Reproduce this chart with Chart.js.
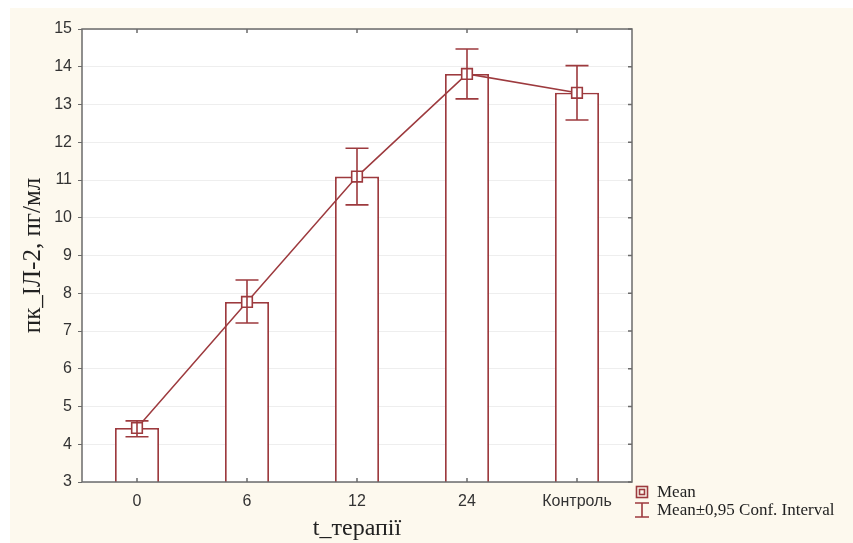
<!DOCTYPE html>
<html>
<head>
<meta charset="utf-8">
<script src="https://cdn.jsdelivr.net/npm/chart.js@4.4.1/dist/chart.umd.min.js"></script>
<style>
  html, body { margin: 0; padding: 0; background: #ffffff; }
  #wrap { position: absolute; left: 0; top: 0; width: 853px; height: 543px; }
</style>
</head>
<body>
<div id="wrap"><canvas id="chart"></canvas></div>
<script>
// data
var categories = ["0", "6", "12", "24", "Контроль"];
var means = [4.43, 7.77, 11.09, 13.81, 13.31];
var ciLow = [4.20, 7.21, 10.34, 13.15, 12.59];
var ciHigh = [4.62, 8.35, 11.84, 14.47, 14.03];
var yTicks = [3, 4, 5, 6, 7, 8, 9, 10, 11, 12, 13, 14, 15];

var red = "#9d3a3e";
var cream = "#fdf9ee";

var backgroundPlugin = {
  id: "bg",
  beforeDraw: function (chart) {
    var ctx = chart.ctx;
    var a = chart.chartArea;
    ctx.save();
    ctx.fillStyle = cream;
    ctx.fillRect(10, 8, chart.width - 10, chart.height - 8);
    ctx.fillStyle = "#ffffff";
    ctx.fillRect(a.left, a.top, a.right - a.left, a.bottom - a.top);
    ctx.restore();
  },
};

var errorBarPlugin = {
  id: "errorBars",
  afterDatasetsDraw: function (chart) {
    var ctx = chart.ctx;
    var y = chart.scales.y;
    var meta = chart.getDatasetMeta(0);
    ctx.save();
    ctx.strokeStyle = red;
    ctx.lineWidth = 1.6;
    meta.data.forEach(function (bar, i) {
      var x = bar.x;
      var top = y.getPixelForValue(ciHigh[i]);
      var bot = y.getPixelForValue(ciLow[i]);
      ctx.beginPath();
      ctx.moveTo(x, top);
      ctx.lineTo(x, bot);
      ctx.moveTo(x - 11.5, top);
      ctx.lineTo(x + 11.5, top);
      ctx.moveTo(x - 11.5, bot);
      ctx.lineTo(x + 11.5, bot);
      ctx.stroke();
    });
    ctx.restore();
  },
  afterDraw: function (chart) {
    // frame, mirrored ticks and legend
    var ctx = chart.ctx;
    var a = chart.chartArea;
    var x = chart.scales.x;
    var y = chart.scales.y;
    ctx.save();
    ctx.strokeStyle = "#6b6b6b";
    ctx.lineWidth = 1.5;
    ctx.strokeRect(a.left, a.top, a.right - a.left, a.bottom - a.top);
    ctx.beginPath();
    categories.forEach(function (c, i) {
      var px = x.getPixelForValue(i);
      ctx.moveTo(px, a.top);
      ctx.lineTo(px, a.top + 4);
      ctx.moveTo(px, a.bottom);
      ctx.lineTo(px, a.bottom - 4);
    });
    yTicks.forEach(function (v) {
      var py = y.getPixelForValue(v);
      ctx.moveTo(a.right, py);
      ctx.lineTo(a.right - 4, py);
    });
    ctx.stroke();

    // legend
    ctx.strokeStyle = red;
    ctx.lineWidth = 1.6;
    ctx.strokeRect(636.5, 486.5, 11, 11);
    ctx.strokeRect(639.5, 489.5, 5, 5);
    ctx.beginPath();
    ctx.moveTo(642, 503);
    ctx.lineTo(642, 517);
    ctx.moveTo(635, 503);
    ctx.lineTo(649, 503);
    ctx.moveTo(635, 517);
    ctx.lineTo(649, 517);
    ctx.stroke();
    ctx.fillStyle = "#222222";
    ctx.font = "17px 'Liberation Serif'";
    ctx.textBaseline = "middle";
    ctx.fillText("Mean", 657, 493);
    ctx.fillText("Mean±0,95 Conf. Interval", 657, 511);
    ctx.restore();
  },
};

var config = {
  type: "bar",
  data: {
    labels: categories,
    datasets: [
      {
        type: "bar",
        data: means,
        backgroundColor: "#ffffff",
        borderColor: red,
        borderWidth: 1.8,
        barPercentage: 0.4,
        categoryPercentage: 1,
        order: 2,
      },
      {
        type: "line",
        data: means,
        borderColor: red,
        borderWidth: 1.5,
        pointStyle: "rect",
        pointRadius: 7.5,
        pointBackgroundColor: "#ffffff",
        pointBorderColor: red,
        pointBorderWidth: 1.6,
        order: 1,
      },
    ],
  },
  options: {
    responsive: false,
    animation: false,
    devicePixelRatio: 1,
    layout: { padding: { top: 29, right: 221, bottom: 0, left: 0 } },
    plugins: { legend: { display: false }, tooltip: { enabled: false } },
    scales: {
      x: {
        offset: true,
        grid: { display: false, drawTicks: false },
        border: { display: false },
        ticks: {
          color: "#333333",
          padding: 10,
          font: { family: "'Liberation Sans'", size: 16 },
        },
        title: {
          display: true,
          text: "t_терапії",
          color: "#222222",
          padding: { top: 7, bottom: 0 },
          font: { family: "'Liberation Serif'", size: 24 },
        },
        afterFit: function (scale) {
          scale.height = 61;
        },
      },
      y: {
        min: 3,
        max: 15,
        afterBuildTicks: function (scale) {
          scale.ticks = yTicks.map(function (v) {
            return { value: v };
          });
        },
        grid: { color: "#eeeeee", tickLength: 4, tickColor: "#6b6b6b" },
        border: { display: false },
        ticks: {
          color: "#333333",
          padding: 6,
          font: { family: "'Liberation Sans'", size: 16 },
        },
        title: {
          display: true,
          text: "пк_ІЛ-2, пг/мл",
          color: "#222222",
          padding: { top: 18, bottom: 0 },
          font: { family: "'Liberation Serif'", size: 25 },
        },
        afterFit: function (scale) {
          scale.width = 82;
        },
      },
    },
  },
  plugins: [backgroundPlugin, errorBarPlugin],
};

var canvas = document.getElementById("chart");
canvas.width = 853;
canvas.height = 543;
canvas.chart = new Chart(canvas.getContext("2d"), config);
</script>
</body>
</html>
